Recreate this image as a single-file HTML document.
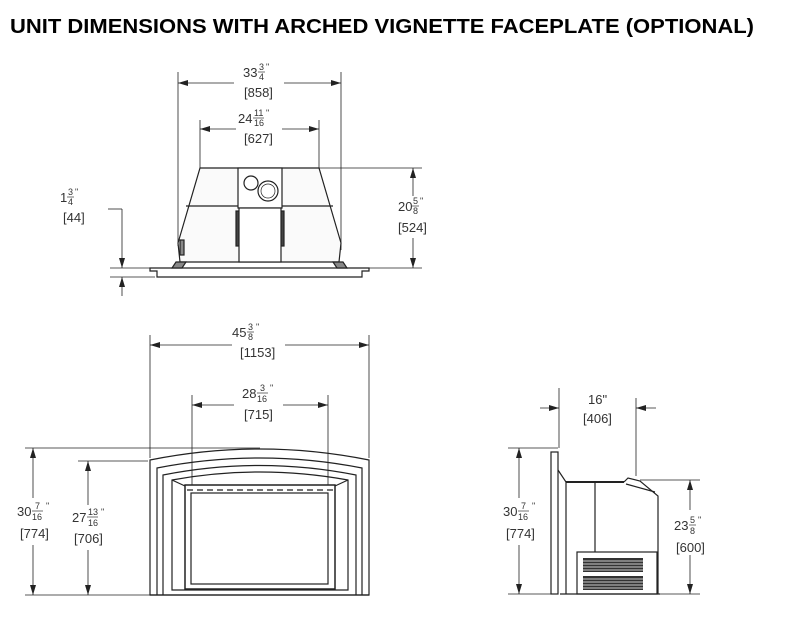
<!DOCTYPE html>
<html><head><meta charset="utf-8"><style>
html,body{margin:0;padding:0;background:#fff;}
svg{display:block;}
text{font-family:"Liberation Sans",sans-serif;fill:#333;}
.d{font-size:13px;}
.f{font-size:9px;}
</style></head><body>
<svg width="800" height="619" viewBox="0 0 800 619" xmlns="http://www.w3.org/2000/svg">
<defs>
<marker id="a" viewBox="0 0 10 6" refX="10" refY="3" markerWidth="10" markerHeight="6" orient="auto-start-reverse" markerUnits="userSpaceOnUse">
<path d="M0,0L10,3L0,6z" fill="#222"/></marker>
</defs>
<text x="10" y="33" font-size="20" font-weight="bold" style="fill:#000" textLength="744" lengthAdjust="spacingAndGlyphs">UNIT DIMENSIONS WITH ARCHED VIGNETTE FACEPLATE (OPTIONAL)</text>

<g stroke="#222" stroke-width="0.8" fill="none">
<!-- TOP VIEW dims -->
<line x1="178" y1="72" x2="178" y2="246"/><line x1="341" y1="72" x2="341" y2="250"/>
<line x1="178" y1="83" x2="234" y2="83" marker-start="url(#a)"/><line x1="284" y1="83" x2="341" y2="83" marker-end="url(#a)"/>
<line x1="200" y1="120" x2="200" y2="168"/><line x1="319" y1="120" x2="319" y2="168"/>
<line x1="200" y1="129" x2="236" y2="129" marker-start="url(#a)"/><line x1="282" y1="129" x2="319" y2="129" marker-end="url(#a)"/>
<line x1="319" y1="168" x2="422" y2="168"/><line x1="369" y1="268" x2="422" y2="268"/>
<line x1="413" y1="168" x2="413" y2="196" marker-start="url(#a)"/><line x1="413" y1="238" x2="413" y2="268" marker-end="url(#a)"/>
<line x1="108" y1="209" x2="122" y2="209"/><line x1="122" y1="209" x2="122" y2="268" marker-end="url(#a)"/>
<line x1="110" y1="268" x2="150" y2="268"/><line x1="110" y1="277" x2="155" y2="277"/>
<line x1="122" y1="296" x2="122" y2="277" marker-end="url(#a)"/>
</g>
<!-- top view body -->
<g stroke="#222" stroke-width="1.2" fill="#fff">
<path d="M200,168 L319,168 L341,243 L339,262 L180,262 L178,243 Z" fill="#fafafa"/>
<line x1="186" y1="206" x2="333" y2="206"/>
<rect x="238" y="168" width="44" height="40"/>
<circle cx="251" cy="183" r="7"/><circle cx="268" cy="191" r="10"/>
<circle cx="268" cy="191" r="7" stroke-width="0.7"/>
<rect x="236" y="211" width="4" height="35" fill="#444"/><rect x="280" y="211" width="4" height="35" fill="#444"/>
<rect x="239" y="208" width="42" height="54"/>
<path d="M150,268 L369,268 L369,271 L362,271 L362,277 L157,277 L157,271 L150,271 Z"/>
<path d="M176,262 L186,262 L182,268 L172,268Z" fill="#888"/><path d="M333,262 L343,262 L347,268 L337,268Z" fill="#888"/>
<rect x="180" y="240" width="4" height="15" fill="#888"/>
</g>
<text class="d" x="243" y="77">33</text><text class="f" x="259" y="70">3</text><line x1="258" y1="72" x2="265" y2="72" stroke="#333" stroke-width="0.7"/><text class="f" x="259" y="80">4</text><text class="f" x="266" y="70">"</text>
<text class="d" x="244" y="97">[858]</text>
<text class="d" x="238" y="123">24</text><text class="f" x="254" y="116">11</text><line x1="253" y1="118" x2="264" y2="118" stroke="#333" stroke-width="0.7"/><text class="f" x="254" y="126">16</text><text class="f" x="266" y="116">"</text>
<text class="d" x="244" y="143">[627]</text>
<text class="d" x="398" y="211">20</text><text class="f" x="413" y="204">5</text><line x1="412" y1="206" x2="419" y2="206" stroke="#333" stroke-width="0.7"/><text class="f" x="413" y="214">8</text><text class="f" x="420" y="204">"</text>
<text class="d" x="398" y="232">[524]</text>
<text class="d" x="60" y="202">1</text><text class="f" x="68" y="195">3</text><line x1="67" y1="197" x2="74" y2="197" stroke="#333" stroke-width="0.7"/><text class="f" x="68" y="205">4</text><text class="f" x="75" y="195">"</text>
<text class="d" x="63" y="222">[44]</text>

<!-- FRONT VIEW -->
<g stroke="#222" stroke-width="0.8" fill="none">
<line x1="150" y1="335" x2="150" y2="458"/><line x1="369" y1="335" x2="369" y2="458"/>
<line x1="150" y1="345" x2="232" y2="345" marker-start="url(#a)"/><line x1="285" y1="345" x2="369" y2="345" marker-end="url(#a)"/>
<line x1="192" y1="395" x2="192" y2="485"/><line x1="328" y1="395" x2="328" y2="485"/>
<line x1="192" y1="405" x2="234" y2="405" marker-start="url(#a)"/><line x1="283" y1="405" x2="328" y2="405" marker-end="url(#a)"/>
<line x1="25" y1="448" x2="260" y2="448"/><line x1="25" y1="595" x2="150" y2="595"/>
<line x1="78" y1="461" x2="148" y2="461"/>
<line x1="33" y1="448" x2="33" y2="498" marker-start="url(#a)"/><line x1="33" y1="545" x2="33" y2="595" marker-end="url(#a)"/>
<line x1="88" y1="461" x2="88" y2="505" marker-start="url(#a)"/><line x1="88" y1="550" x2="88" y2="595" marker-end="url(#a)"/>
</g>
<g stroke="#222" stroke-width="1.2" fill="none">
<path d="M150,595 L150,460 Q260,438 369,460 L369,595 Z"/>
<path d="M157,595 L157,468 Q260,448 362,468 L362,595"/>
<path d="M163,595 L163,475 Q260,456 356,475 L356,595"/>
<path d="M172,590 L172,480 Q260,464 348,480 L348,590 Z"/>
<line x1="172" y1="480" x2="185" y2="486"/><line x1="348" y1="480" x2="335" y2="486"/>
<rect x="185" y="485" width="150" height="104" stroke-width="1.5"/>
<rect x="191" y="493" width="137" height="91"/>
<line x1="187" y1="490" x2="333" y2="490" stroke-dasharray="6,4"/>
<line x1="150" y1="595" x2="369" y2="595"/>
</g>
<text class="d" x="232" y="337">45</text><text class="f" x="248" y="330">3</text><line x1="247" y1="332" x2="254" y2="332" stroke="#333" stroke-width="0.7"/><text class="f" x="248" y="340">8</text><text class="f" x="256" y="330">"</text>
<text class="d" x="240" y="357">[1153]</text>
<text class="d" x="242" y="398">28</text><text class="f" x="260" y="391">3</text><line x1="257" y1="393" x2="268" y2="393" stroke="#333" stroke-width="0.7"/><text class="f" x="257" y="402">16</text><text class="f" x="270" y="391">"</text>
<text class="d" x="244" y="419">[715]</text>
<text class="d" x="17" y="516">30</text><text class="f" x="35" y="509">7</text><line x1="32" y1="511" x2="43" y2="511" stroke="#333" stroke-width="0.7"/><text class="f" x="32" y="520">16</text><text class="f" x="46" y="509">"</text>
<text class="d" x="20" y="538">[774]</text>
<text class="d" x="72" y="522">27</text><text class="f" x="88" y="515">13</text><line x1="87" y1="517" x2="98" y2="517" stroke="#333" stroke-width="0.7"/><text class="f" x="88" y="526">16</text><text class="f" x="101" y="515">"</text>
<text class="d" x="74" y="543">[706]</text>

<!-- SIDE VIEW -->
<g stroke="#222" stroke-width="0.8" fill="none">
<line x1="559" y1="388" x2="559" y2="448"/><line x1="636" y1="398" x2="636" y2="476"/>
<line x1="540" y1="408" x2="559" y2="408" marker-end="url(#a)"/><line x1="656" y1="408" x2="636" y2="408" marker-end="url(#a)"/>
<line x1="508" y1="448" x2="558" y2="448"/><line x1="508" y1="594" x2="552" y2="594"/>
<line x1="519" y1="448" x2="519" y2="498" marker-start="url(#a)"/><line x1="519" y1="545" x2="519" y2="594" marker-end="url(#a)"/>
<line x1="640" y1="480" x2="700" y2="480"/><line x1="660" y1="594" x2="700" y2="594"/>
<line x1="690" y1="480" x2="690" y2="510" marker-start="url(#a)"/><line x1="690" y1="555" x2="690" y2="594" marker-end="url(#a)"/>
</g>
<g stroke="#222" stroke-width="1.2" fill="#fff">
<rect x="551" y="452" width="7" height="142"/>
<path d="M558,470 L566,482 L566,594" fill="none"/>
<line x1="566" y1="482" x2="624" y2="482" stroke-width="2"/>
<path d="M624,482 L628,478 L640,481 L658,496 L658,594" fill="none"/>
<line x1="626" y1="484" x2="655" y2="492"/>
<line x1="595" y1="482" x2="595" y2="552"/>
<rect x="577" y="552" width="80" height="42"/>
<line x1="560" y1="594" x2="660" y2="594"/>
</g>
<g fill="#333">
<rect x="583" y="558" width="60" height="14"/><rect x="583" y="576" width="60" height="14"/>
</g>
<g stroke="#fff" stroke-width="0.8">
<line x1="583" y1="561" x2="643" y2="561"/><line x1="583" y1="564" x2="643" y2="564"/><line x1="583" y1="567" x2="643" y2="567"/><line x1="583" y1="570" x2="643" y2="570"/>
<line x1="583" y1="579" x2="643" y2="579"/><line x1="583" y1="582" x2="643" y2="582"/><line x1="583" y1="585" x2="643" y2="585"/><line x1="583" y1="588" x2="643" y2="588"/>
</g>
<text class="d" x="588" y="404">16"</text>
<text class="d" x="583" y="423">[406]</text>
<text class="d" x="503" y="516">30</text><text class="f" x="521" y="509">7</text><line x1="518" y1="511" x2="529" y2="511" stroke="#333" stroke-width="0.7"/><text class="f" x="518" y="520">16</text><text class="f" x="532" y="509">"</text>
<text class="d" x="506" y="538">[774]</text>
<text class="d" x="674" y="530">23</text><text class="f" x="690" y="523">5</text><line x1="689" y1="525" x2="696" y2="525" stroke="#333" stroke-width="0.7"/><text class="f" x="690" y="534">8</text><text class="f" x="698" y="523">"</text>
<text class="d" x="676" y="552">[600]</text>
</svg>
</body></html>
